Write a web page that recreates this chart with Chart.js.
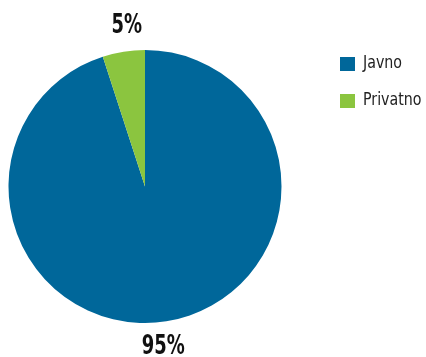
<!DOCTYPE html>
<html>
<head>
<meta charset="utf-8">
<script src="https://cdn.jsdelivr.net/npm/chart.js@4/dist/chart.umd.min.js"></script>
<style>
html,body{margin:0;padding:0;background:#fff;}
#wrap{position:relative;width:426px;height:357px;}
</style>
</head>
<body>
<div id="wrap"><canvas id="c" width="426" height="357"></canvas></div>
<script>
const categories = ["Javno", "Privatno"];
const values = [95, 5];
const valueLabels = ["95%", "5%"];
const colors = ["#00679A", "#8BC53F"];

const labelFont = "bold 27px 'DejaVu Sans Condensed', 'Liberation Sans Narrow', sans-serif";
const legendFont = "17px 'DejaVu Sans Condensed', 'Liberation Sans Narrow', sans-serif";

const overlay = {
  id: 'overlay',
  afterDatasetsDraw(chart) {
    const ctx = chart.ctx;
    const meta = chart.getDatasetMeta(0);
    ctx.save();
    ctx.fillStyle = '#111';
    ctx.font = labelFont;
    ctx.textAlign = 'center';
    ctx.textBaseline = 'middle';
    meta.data.forEach((arc, i) => {
      const p = arc.getProps(['x','y','startAngle','endAngle','outerRadius'], true);
      const mid = (p.startAngle + p.endAngle) / 2;
      const r = p.outerRadius + 26;
      const x = p.x + Math.cos(mid) * r * 0.72;
      const y = p.y + Math.sin(mid) * r;
      ctx.save();
      ctx.translate(x, y);
      ctx.scale(0.74, 1);
      ctx.fillText(valueLabels[i], 0, 0);
      ctx.restore();
    });
    // legend
    ctx.font = legendFont;
    ctx.textAlign = 'left';
    categories.forEach((c, i) => {
      const y0 = 57 + i * 37;
      ctx.fillStyle = colors[i];
      ctx.fillRect(340, y0, 15, 14);
      ctx.fillStyle = '#222';
      ctx.save();
      ctx.translate(363, y0 + 7);
      ctx.scale(0.93, 1);
      ctx.fillText(c, 0, 0);
      ctx.restore();
    });
    ctx.restore();
  }
};

new Chart(document.getElementById('c'), {
  type: 'pie',
  data: {
    labels: categories,
    datasets: [{ data: values, backgroundColor: colors, borderWidth: 0 }]
  },
  options: {
    responsive: false,
    animation: false,
    layout: { padding: { left: 8, right: 144, top: 50, bottom: 34 } },
    plugins: { legend: { display: false }, tooltip: { enabled: false } }
  },
  plugins: [overlay]
});
</script>
</body>
</html>
